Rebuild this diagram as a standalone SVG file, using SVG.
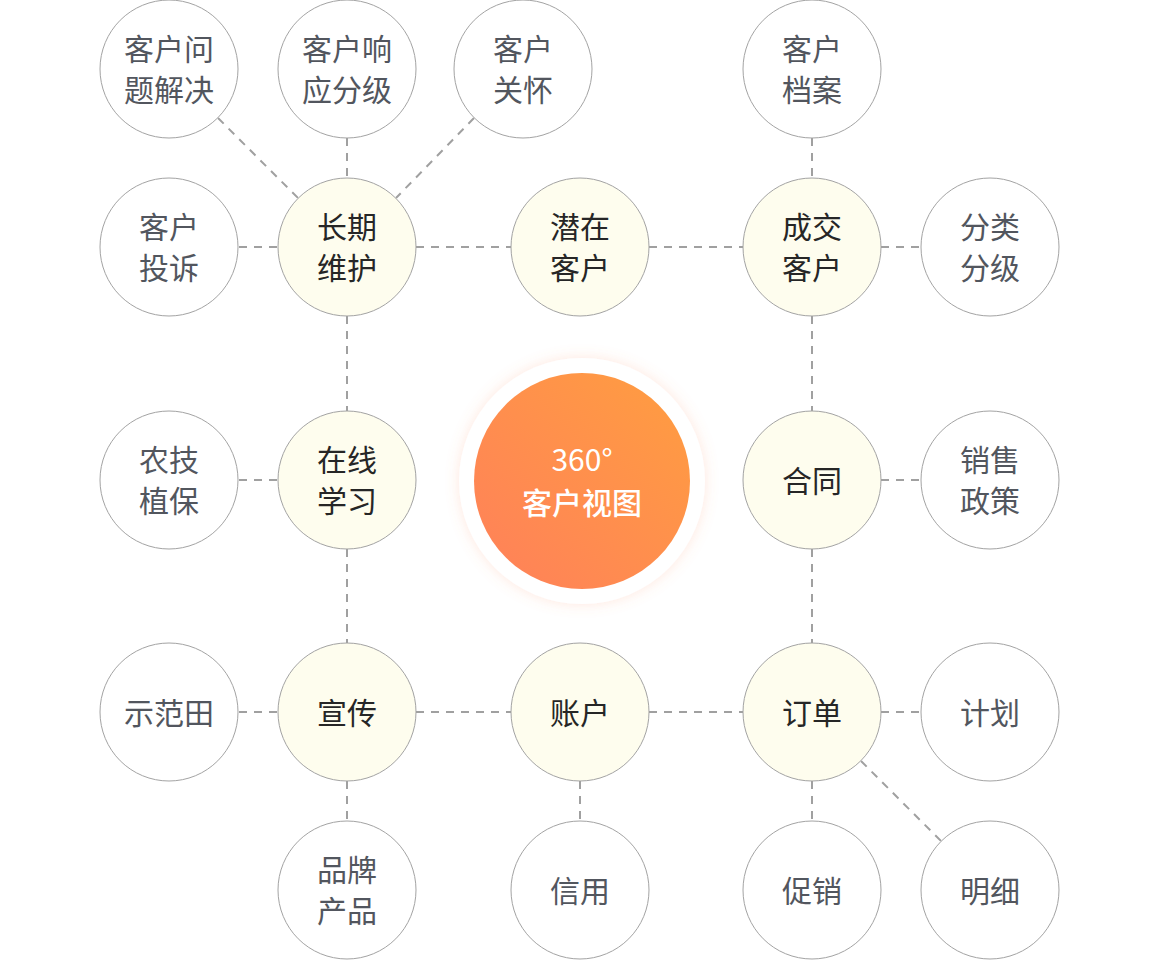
<svg xmlns="http://www.w3.org/2000/svg" width="1160" height="960" viewBox="0 0 1160 960">
<defs>
<style>
.n{fill:#ffffff;stroke:#a3a3a3;stroke-width:1}
.y{fill:#fefdee;stroke:#a3a3a3;stroke-width:1}
.t{font-family:"Noto Sans CJK SC","Noto Sans",sans-serif;font-size:30px;fill:#52565e;text-anchor:middle;dominant-baseline:central}
.ty{font-family:"Noto Sans CJK SC","Noto Sans",sans-serif;font-size:30px;fill:#262626;text-anchor:middle;dominant-baseline:central}
.c{font-family:"Noto Sans CJK SC","Noto Sans",sans-serif;font-size:30px;fill:#ffffff;text-anchor:middle;dominant-baseline:central}
#edges line{stroke:#a0a0a0;stroke-width:2;stroke-dasharray:8 7}
</style>
<linearGradient id="g" x1="0" y1="1" x2="1" y2="0">
<stop offset="0" stop-color="#ff805a"/>
<stop offset="1" stop-color="#ff9e40"/>
</linearGradient>
<filter id="sh" x="-30%" y="-30%" width="160%" height="160%">
<feDropShadow dx="0" dy="0" stdDeviation="7" flood-color="#ff9060" flood-opacity="0.22"/>
</filter>
</defs>
<rect width="1160" height="960" fill="#ffffff"/>
<g id="edges">
<line x1="218" y1="118" x2="298" y2="198"/>
<line x1="347" y1="138" x2="347" y2="178"/>
<line x1="474" y1="118" x2="396" y2="198"/>
<line x1="239" y1="247" x2="278" y2="247"/>
<line x1="416" y1="247" x2="511" y2="247"/>
<line x1="649" y1="247" x2="743" y2="247"/>
<line x1="812" y1="138" x2="812" y2="178"/>
<line x1="881" y1="247" x2="921" y2="247"/>
<line x1="347" y1="316" x2="347" y2="411"/>
<line x1="812" y1="316" x2="812" y2="411"/>
<line x1="239" y1="480" x2="278" y2="480"/>
<line x1="881" y1="480" x2="921" y2="480"/>
<line x1="347" y1="549" x2="347" y2="643"/>
<line x1="812" y1="549" x2="812" y2="643"/>
<line x1="239" y1="712" x2="278" y2="712"/>
<line x1="416" y1="712" x2="511" y2="712"/>
<line x1="649" y1="712" x2="743" y2="712"/>
<line x1="881" y1="712" x2="921" y2="712"/>
<line x1="347" y1="781" x2="347" y2="821"/>
<line x1="580" y1="781" x2="580" y2="821"/>
<line x1="812" y1="781" x2="812" y2="821"/>
<line x1="861" y1="761" x2="941" y2="841"/>
</g>
<g id="center">
<circle cx="582" cy="481" r="123" fill="#ffffff" filter="url(#sh)"/>
<circle cx="582" cy="481" r="108" fill="url(#g)"/>
<text class="c" x="582" y="458">360°</text>
<text class="c" x="582" y="501" font-weight="500">客户视图</text>
</g>
<g id="n1"><circle class="n" cx="169" cy="69" r="69"/><text class="t" x="169" y="47">客户问</text><text class="t" x="169" y="88">题解决</text></g>
<g id="n2"><circle class="n" cx="347" cy="69" r="69"/><text class="t" x="347" y="47">客户响</text><text class="t" x="347" y="88">应分级</text></g>
<g id="n3"><circle class="n" cx="523" cy="69" r="69"/><text class="t" x="523" y="47">客户</text><text class="t" x="523" y="88">关怀</text></g>
<g id="n4"><circle class="n" cx="812" cy="69" r="69"/><text class="t" x="812" y="47">客户</text><text class="t" x="812" y="88">档案</text></g>
<g id="n5"><circle class="n" cx="169" cy="247" r="69"/><text class="t" x="169" y="225">客户</text><text class="t" x="169" y="266">投诉</text></g>
<g id="n6"><circle class="y" cx="347" cy="247" r="69"/><text class="ty" x="347" y="225">长期</text><text class="ty" x="347" y="266">维护</text></g>
<g id="n7"><circle class="y" cx="580" cy="247" r="69"/><text class="ty" x="580" y="225">潜在</text><text class="ty" x="580" y="266">客户</text></g>
<g id="n8"><circle class="y" cx="812" cy="247" r="69"/><text class="ty" x="812" y="225">成交</text><text class="ty" x="812" y="266">客户</text></g>
<g id="n9"><circle class="n" cx="990" cy="247" r="69"/><text class="t" x="990" y="225">分类</text><text class="t" x="990" y="266">分级</text></g>
<g id="n10"><circle class="n" cx="169" cy="480" r="69"/><text class="t" x="169" y="458">农技</text><text class="t" x="169" y="499">植保</text></g>
<g id="n11"><circle class="y" cx="347" cy="480" r="69"/><text class="ty" x="347" y="458">在线</text><text class="ty" x="347" y="499">学习</text></g>
<g id="n12"><circle class="y" cx="812" cy="480" r="69"/><text class="ty" x="812" y="479">合同</text></g>
<g id="n13"><circle class="n" cx="990" cy="480" r="69"/><text class="t" x="990" y="458">销售</text><text class="t" x="990" y="499">政策</text></g>
<g id="n14"><circle class="n" cx="169" cy="712" r="69"/><text class="t" x="169" y="711">示范田</text></g>
<g id="n15"><circle class="y" cx="347" cy="712" r="69"/><text class="ty" x="347" y="711">宣传</text></g>
<g id="n16"><circle class="y" cx="580" cy="712" r="69"/><text class="ty" x="580" y="711">账户</text></g>
<g id="n17"><circle class="y" cx="812" cy="712" r="69"/><text class="ty" x="812" y="711">订单</text></g>
<g id="n18"><circle class="n" cx="990" cy="712" r="69"/><text class="t" x="990" y="711">计划</text></g>
<g id="n19"><circle class="n" cx="347" cy="890" r="69"/><text class="t" x="347" y="868">品牌</text><text class="t" x="347" y="909">产品</text></g>
<g id="n20"><circle class="n" cx="580" cy="890" r="69"/><text class="t" x="580" y="889">信用</text></g>
<g id="n21"><circle class="n" cx="812" cy="890" r="69"/><text class="t" x="812" y="889">促销</text></g>
<g id="n22"><circle class="n" cx="990" cy="890" r="69"/><text class="t" x="990" y="889">明细</text></g>
</svg>
